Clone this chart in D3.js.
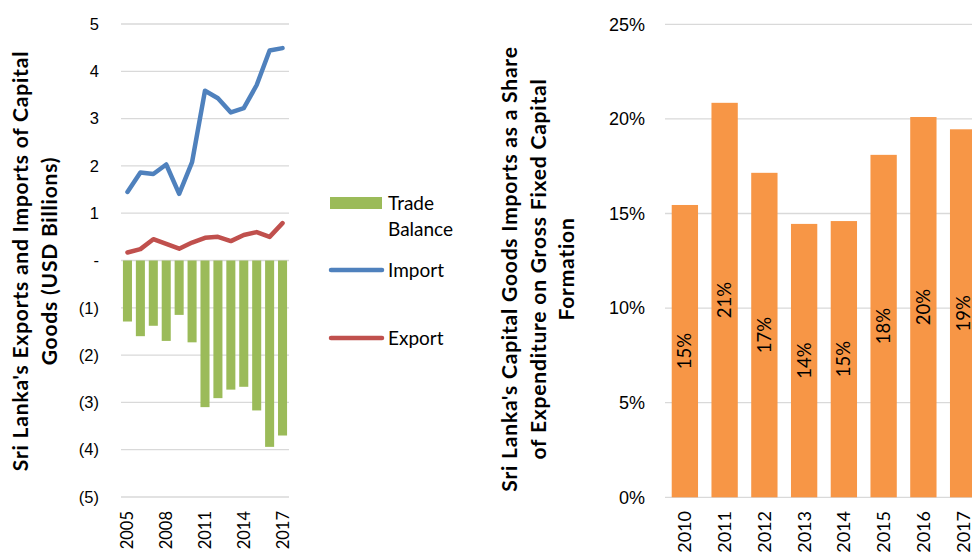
<!DOCTYPE html>
<html>
<head>
<meta charset="utf-8">
<script src="https://cdn.jsdelivr.net/npm/d3@7"></script>
<style>
	body { margin: 0; background: white; }
	svg { display: block; font-family: Lato, "Open Sans", sans-serif; }
</style>
</head>
<body>
<main></main>
<script>
// DATA
// left chart: capital goods trade, USD billions
const years = ["2005", "2006", "2007", "2008", "2009", "2010", "2011", "2012", "2013", "2014", "2015", "2016", "2017"];
const importVals = [1.45, 1.86, 1.83, 2.03, 1.41, 2.08, 3.59, 3.43, 3.13, 3.22, 3.71, 4.44, 4.49];
const exportVals = [0.17, 0.24, 0.45, 0.35, 0.25, 0.38, 0.48, 0.50, 0.41, 0.54, 0.60, 0.50, 0.79];
const tradeBalance = [-1.29, -1.60, -1.38, -1.70, -1.15, -1.73, -3.10, -2.91, -2.73, -2.67, -3.17, -3.94, -3.70];
const leftTicks = [5, 4, 3, 2, 1, 0, -1, -2, -3, -4, -5];
const leftYearLabels = ["2005", "2008", "2011", "2014", "2017"];

// right chart: share of gross fixed capital formation, %
const shareYears = ["2010", "2011", "2012", "2013", "2014", "2015", "2016", "2017"];
const shareVals = [15.45, 20.85, 17.15, 14.45, 14.6, 18.1, 20.1, 19.45];
const rightTicks = [0, 5, 10, 15, 20, 25];

// COLORS
const GREEN = "#9bbb59";
const BLUE = "#4f81bd";
const RED = "#c0504d";
const ORANGE = "#f79646";
const GRID = "#d9d9d9";
const TEXT = "#000";

const w = 972;
const h = 555;

const svg = d3.select("main").append("svg")
	.attr("width", w)
	.attr("height", h)
	.style("background-color", "white");

// LEFT CHART
const leftFmt = v => v === 0 ? "-" : v < 0 ? `(${-v})` : `${v}`;
const lx = d3.scaleBand().domain(years).range([121, 289]).paddingInner(0.3).paddingOuter(0.15);
const ly = d3.scaleLinear().domain([-5, 5]).range([497, 24]);

const left = svg.append("g");

// gridlines
left.append("g").selectAll("line")
	.data(leftTicks)
	.enter().append("line")
		.attr("x1", 121).attr("x2", 289)
		.attr("y1", d => ly(d)).attr("y2", d => ly(d))
		.attr("stroke", GRID).attr("stroke-width", 1.3);

// y axis labels
const leftAxis = d3.axisLeft(ly).tickValues(leftTicks).tickFormat(leftFmt).tickSize(0).tickPadding(0);
left.append("g")
	.attr("transform", "translate(99,0)")
	.call(leftAxis)
	.call(g => g.select(".domain").remove())
	.call(g => g.selectAll("text").attr("font-size", 16.5).attr("fill", TEXT).attr("font-family", null));

// bars
left.append("g").selectAll("rect")
	.data(tradeBalance)
	.enter().append("rect")
		.attr("x", (d, i) => lx(years[i]))
		.attr("y", ly(0))
		.attr("width", lx.bandwidth())
		.attr("height", d => ly(d) - ly(0))
		.attr("fill", GREEN);

// lines
const lineGen = d3.line()
	.x((d, i) => lx(years[i]) + lx.bandwidth() / 2)
	.y(d => ly(d));
[[importVals, BLUE], [exportVals, RED]].forEach(([vals, col]) => {
	left.append("path")
		.datum(vals)
		.attr("d", lineGen)
		.attr("fill", "none")
		.attr("stroke", col)
		.attr("stroke-width", 4.5)
		.attr("stroke-linejoin", "round")
		.attr("stroke-linecap", "round");
});

// x labels
left.append("g").selectAll("text")
	.data(leftYearLabels)
	.enter().append("text")
		.attr("transform", d => `translate(${lx(d) + lx.bandwidth() / 2 + 6},511) rotate(-90)`)
		.attr("text-anchor", "end")
		.attr("font-size", 16.5)
		.attr("fill", TEXT)
		.text(d => d);

// y title
const leftTitle = ["Sri Lanka's Exports and Imports of Capital", "Goods (USD Billions)"];
left.append("g").selectAll("text")
	.data(leftTitle)
	.enter().append("text")
		.attr("transform", (d, i) => `translate(${28 + i * 29},261) rotate(-90)`)
		.attr("text-anchor", "middle")
		.attr("font-size", 21)
		.attr("letter-spacing", 0.8)
		.attr("font-weight", "bold")
		.attr("fill", TEXT)
		.text(d => d);

// legend
const legend = svg.append("g").attr("font-size", 19).attr("fill", TEXT);
legend.append("rect").attr("x", 330).attr("y", 197).attr("width", 52).attr("height", 12).attr("fill", GREEN);
legend.append("text").attr("x", 388).attr("y", 210).text("Trade");
legend.append("text").attr("x", 388).attr("y", 236).text("Balance");
legend.append("line").attr("x1", 331).attr("x2", 382).attr("y1", 270).attr("y2", 270)
	.attr("stroke", BLUE).attr("stroke-width", 4.5).attr("stroke-linecap", "round");
legend.append("text").attr("x", 388).attr("y", 277).text("Import");
legend.append("line").attr("x1", 331).attr("x2", 382).attr("y1", 338).attr("y2", 338)
	.attr("stroke", RED).attr("stroke-width", 4.5).attr("stroke-linecap", "round");
legend.append("text").attr("x", 388).attr("y", 345).text("Export");

// RIGHT CHART
const rx = d3.scaleBand().domain(shareYears).range([665, 983]).paddingInner(0.338).paddingOuter(0.169);
const ry = d3.scaleLinear().domain([0, 25]).range([497.3, 24.3]);

const right = svg.append("g");

right.append("g").selectAll("line")
	.data(rightTicks)
	.enter().append("line")
		.attr("x1", 665).attr("x2", 983)
		.attr("y1", d => ry(d)).attr("y2", d => ry(d))
		.attr("stroke", GRID).attr("stroke-width", 1.3);

const rightAxis = d3.axisLeft(ry).tickValues(rightTicks).tickFormat(d => d + "%").tickSize(0).tickPadding(0);
right.append("g")
	.attr("transform", "translate(645,0)")
	.call(rightAxis)
	.call(g => g.select(".domain").remove())
	.call(g => g.selectAll("text").attr("font-size", 18).attr("fill", TEXT).attr("font-family", null));

right.append("g").selectAll("rect")
	.data(shareVals)
	.enter().append("rect")
		.attr("x", (d, i) => rx(shareYears[i]))
		.attr("y", d => ry(d))
		.attr("width", rx.bandwidth())
		.attr("height", d => ry(0) - ry(d))
		.attr("fill", ORANGE);

// value labels inside bars
right.append("g").selectAll("text")
	.data(shareVals)
	.enter().append("text")
		.attr("transform", (d, i) => `translate(${rx(shareYears[i]) + rx.bandwidth() / 2},${(ry(d) + ry(0)) / 2}) rotate(-90)`)
		.attr("text-anchor", "middle")
		.attr("dy", "0.35em")
		.attr("font-size", 18.5)
		.attr("fill", TEXT)
		.text(d => Math.round(d) + "%");

right.append("g").selectAll("text")
	.data(shareYears)
	.enter().append("text")
		.attr("transform", d => `translate(${rx(d) + rx.bandwidth() / 2 + 6.5},511) rotate(-90)`)
		.attr("text-anchor", "end")
		.attr("font-size", 18)
		.attr("fill", TEXT)
		.text(d => d);

const rightTitle = ["Sri Lanka's Capital Goods Imports as a Share", "of Expenditure on Gross Fixed Capital", "Formation"];
right.append("g").selectAll("text")
	.data(rightTitle)
	.enter().append("text")
		.attr("transform", (d, i) => `translate(${517 + i * 28.5},269) rotate(-90)`)
		.attr("text-anchor", "middle")
		.attr("font-size", 21)
		.attr("letter-spacing", 0.8)
		.attr("font-weight", "bold")
		.attr("fill", TEXT)
		.text(d => d);
</script>
</body>
</html>
